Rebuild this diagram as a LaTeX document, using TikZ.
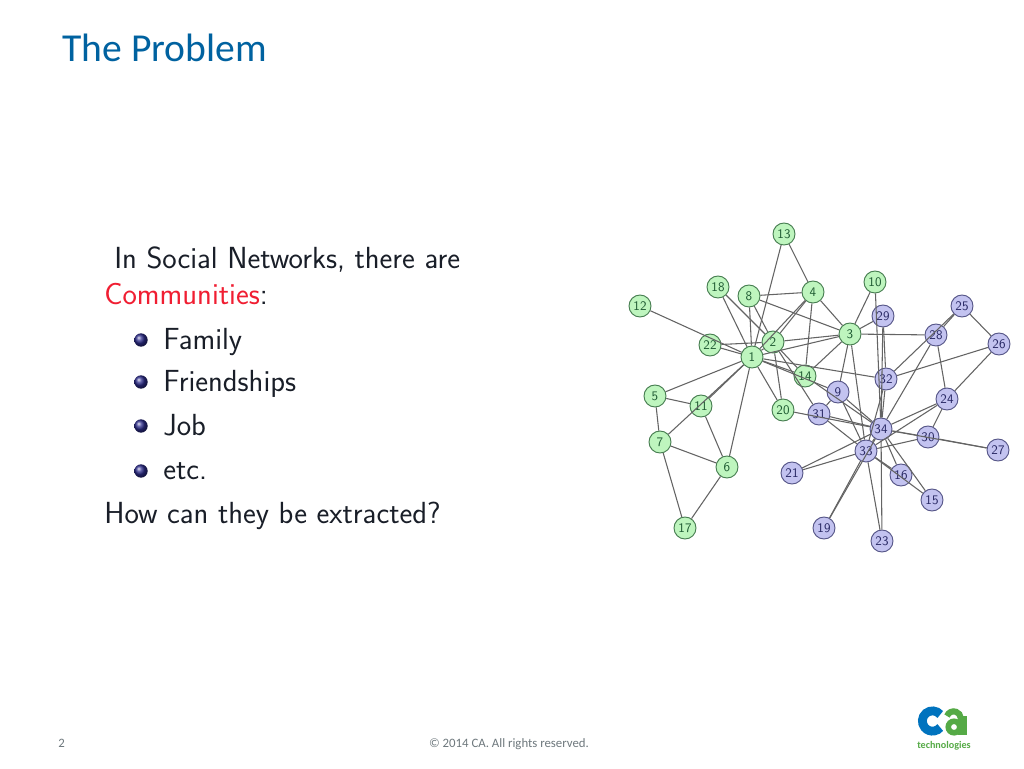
\documentclass[tikz,border=0pt]{standalone}
\usepackage{fontspec}
\setmainfont{Carlito}
\setsansfont{Latin Modern Sans}
\usetikzlibrary{shadings}
\definecolor{titleblue}{RGB}{0,98,160}
\definecolor{footgray}{RGB}{110,120,125}
\definecolor{greenfill}{RGB}{190,245,190}
\definecolor{greenline}{RGB}{70,125,80}
\definecolor{greentext}{RGB}{30,90,50}
\definecolor{bluefill}{RGB}{195,195,240}
\definecolor{blueline}{RGB}{85,85,135}
\definecolor{bluetext}{RGB}{40,40,100}
\definecolor{bodytext}{RGB}{25,30,40}
\definecolor{commred}{RGB}{240,30,50}
\definecolor{ballblue}{RGB}{45,45,140}
\definecolor{edgegray}{RGB}{100,100,100}
\definecolor{cablue}{RGB}{0,115,190}
\definecolor{cagreen}{RGB}{85,170,70}
\tikzset{
  x=0.75pt,y=-0.75pt,
  gn/.style={circle,draw=greenline,fill=greenfill,line width=0.7pt,minimum size=16.5pt,inner sep=0pt,text=greentext,font=\sffamily\fontsize{9.8}{11}\selectfont},
  bn/.style={circle,draw=blueline,fill=bluefill,line width=0.7pt,minimum size=16.5pt,inner sep=0pt,text=bluetext,font=\sffamily\fontsize{9.8}{11}\selectfont},
  edgeline/.style={draw=edgegray,line width=0.8pt},
  bodyline/.style={anchor=base west,inner sep=0pt,text=bodytext,font=\sffamily\fontsize{22.9}{26}\selectfont},
  bulletball/.style={circle,minimum size=10pt,inner sep=0pt,ball color=ballblue},
  foot/.style={inner sep=0pt,text=footgray,font=\fontsize{9.6}{11}\selectfont}
}
\begin{document}
\begin{tikzpicture}
\useasboundingbox (0,0) rectangle (1024,768);
\fill[white] (0,0) rectangle (1024,768);
\node[anchor=base west,inner sep=0pt,text=titleblue,font=\fontsize{29.7}{34}\selectfont] (title) at (62,61) {The Problem};
\node[bodyline] (l1) at (114,268) {In Social Networks, there are};
\node[bodyline] (l2) at (104,304) {\textcolor{commred}{Communities}:};
\node[bodyline] (l3) at (163,349) {Family};
\node[bodyline] (l4) at (163,391) {Friendships};
\node[bodyline] (l5) at (163,435) {Job};
\node[bodyline] (l6) at (163,479) {etc.};
\node[bodyline] (l7) at (104,523) {How can they be extracted?};
\node[bulletball] (b1) at (141,340) {};
\node[bulletball] (b2) at (141,382) {};
\node[bulletball] (b3) at (141,426) {};
\node[bulletball] (b4) at (141,471) {};
\foreach \n/\x/\y in {1/752/357,2/773/342,3/850/334,4/813/292,5/655/396,6/727/467,7/660/442,8/749/296,10/875/282,11/701/406,12/640/306,13/784/234,14/805/376,17/685/528,18/718/287,20/783/410,22/710/345}
  \node[gn] (n\n) at (\x,\y) {\n};
\foreach \n/\x/\y in {9/838/392,15/932/500,16/901/475,19/824/528,21/792/473,23/882/541,24/947/399,25/962/306,26/999/344,27/998/450,28/936/335,29/883/316,30/928/437,31/819/414,32/886/379,33/866/451,34/881/429}
  \node[bn] (n\n) at (\x,\y) {\n};
\foreach \a/\b in {1/2,1/3,1/4,1/5,1/6,1/7,1/8,1/9,1/11,1/12,1/13,1/14,1/18,1/20,1/22,1/32,
 2/3,2/4,2/8,2/14,2/18,2/20,2/22,2/31,
 3/4,3/8,3/9,3/10,3/14,3/28,3/29,3/33,
 4/8,4/13,4/14,5/7,5/11,6/7,6/11,6/17,7/17,
 9/31,9/33,9/34,10/34,14/34,15/33,15/34,16/33,16/34,19/33,19/34,20/34,21/33,21/34,23/33,23/34,
 24/26,24/28,24/30,24/33,24/34,25/26,25/28,25/32,26/32,27/30,27/34,28/34,29/32,29/34,
 30/33,30/34,31/33,31/34,32/33,32/34,33/34}
  \draw[edgeline] (n\a) -- (n\b);
\node[foot,anchor=base west] (page) at (58,747) {2};
\node[foot,anchor=base] (copy) at (509,747) {© 2014 CA. All rights reserved.};
% logo
\draw[cablue,line width=6.6pt] (932.5,721) ++(40:7.6pt) arc[start angle=40,end angle=320,radius=7.6pt];
\draw[cagreen,line width=4.2pt] (954,727) circle[radius=4.3pt];
\draw[cagreen,line width=4.6pt] (947,716) arc[start angle=160,end angle=5,radius=5.3pt];
\draw[cagreen,line width=6.4pt] (962.5,716) -- (962.5,735);
\node[anchor=base,inner sep=0pt,text=cagreen,font=\bfseries\fontsize{7.6}{9}\selectfont] (tech) at (944,748) {technologies};
\end{tikzpicture}
\end{document}
